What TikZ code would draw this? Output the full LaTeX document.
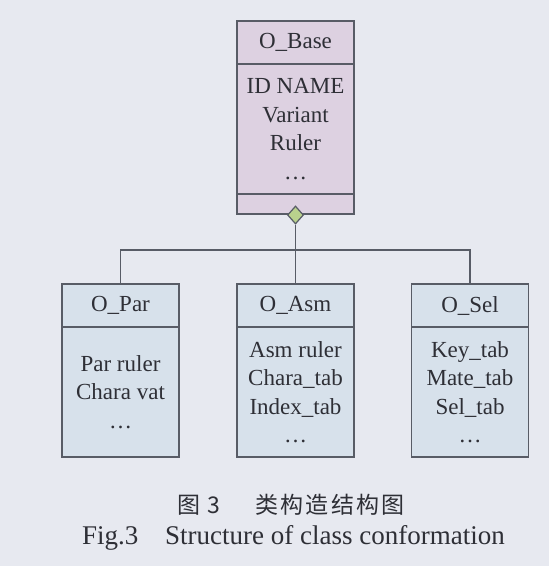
\documentclass[tikz,border=0pt]{standalone}
\usepackage{fontspec}
\setmainfont{Liberation Serif}
\newfontfamily\cjk[LetterSpace=10]{Noto Sans CJK SC}
\usetikzlibrary{shapes.geometric}
\definecolor{bgc}{HTML}{E7E9F0}
\definecolor{basefill}{HTML}{DDD1E1}
\definecolor{childfill}{HTML}{D7E1EB}
\definecolor{linec}{HTML}{585C66}
\definecolor{dia}{HTML}{B9D18D}
\definecolor{txt}{HTML}{2E2F36}
\tikzset{
  every node/.style={text=txt},
  compart/.style={draw=linec, line width=1.3pt, minimum width=117pt, inner sep=0pt, align=center,
    font=\fontsize{23}{28.5}\selectfont},
  basebox/.style={compart, fill=basefill},
  childbox/.style={compart, fill=childfill},
  conn/.style={draw=linec, line width=1.2pt},
  capen/.style={inner sep=0pt, anchor=base west, font=\fontsize{27}{30}\selectfont},
  capzh/.style={inner sep=0pt, anchor=west, font=\fontsize{23}{26}\selectfont\cjk},
}
\begin{document}
\begin{tikzpicture}[x=1pt,y=-1pt]
\fill[bgc] (0,0) rectangle (549,566);
\useasboundingbox (0,0) rectangle (549,566);
% base class
\node[basebox, minimum height=43pt] (bh) at (295.5,42.5) {O\_Base};
\node[basebox, minimum height=130pt] (bb) at (295.5,129) {ID NAME\\Variant\\Ruler\\\dots};
\node[basebox, minimum height=20pt] (bf) at (295.5,204) {};
% children
\node[childbox, minimum height=43pt] (ph) at (120.5,305.5) {O\_Par};
\node[childbox, minimum height=130pt] (pb) at (120.5,392) {Par ruler\\Chara vat\\\dots};
\node[childbox, minimum height=43pt] (ah) at (295.5,305.5) {O\_Asm};
\node[childbox, minimum height=130pt] (ab) at (295.5,392) {Asm ruler\\Chara\_tab\\Index\_tab\\\dots};
\node[childbox, minimum height=43pt] (sh) at (470,305.5) {O\_Sel};
\node[childbox, minimum height=130pt] (sb) at (470,392) {Key\_tab\\Mate\_tab\\Sel\_tab\\\dots};
% diamond
\node[diamond, draw=linec, line width=1.2pt, fill=dia, minimum width=16pt, minimum height=18pt, inner sep=0pt] (d) at (295.5,215) {};
% connectors
\coordinate (j) at (295.5,250);
\draw[conn] (d.south) -- (j);
\draw[conn] (ph.north) |- (j) -| (sh.north);
\draw[conn] (j) -- (ah.north);
% captions
\node[capzh] (c1) at (177,505) {图 3};
\node[capzh] (c2) at (255,505) {类构造结构图};
\node[capen] (e1) at (82,544) {Fig.3};
\node[capen] (e2) at (165,544) {Structure of class conformation};
\end{tikzpicture}
\end{document}
